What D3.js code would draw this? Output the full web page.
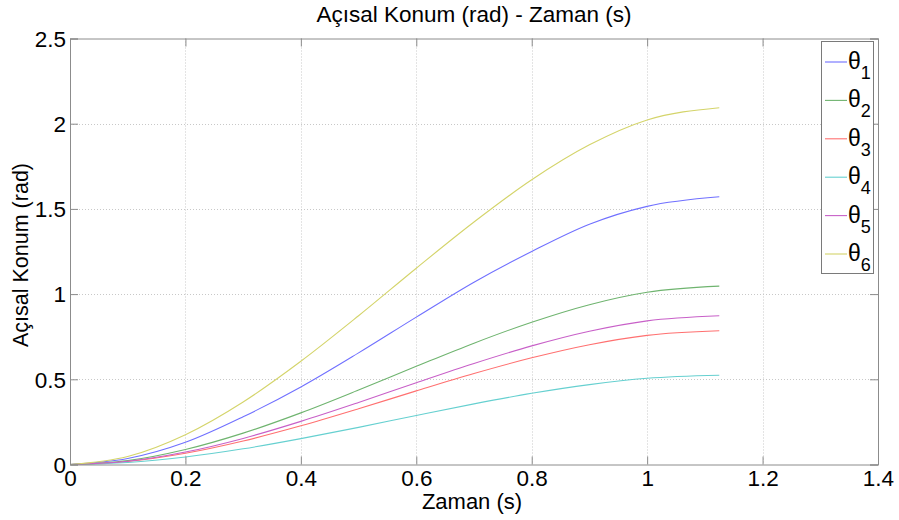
<!DOCTYPE html>
<html>
<head>
<meta charset="utf-8">
<script src="https://cdn.jsdelivr.net/npm/d3@7"></script>
<style>
  body { margin: 0; background: #fff; }
  svg { font-family: "Liberation Sans", Arial, Helvetica, sans-serif; }
</style>
</head>
<body>
<svg id="chart"></svg>
<script>
const W = 899, H = 520;
const margin = { top: 38.5, right: 21, bottom: 55.5, left: 70 };

// time samples (s)
const zaman = [0, 0.1, 0.2, 0.3, 0.4, 0.5, 0.6, 0.7, 0.8, 0.9, 1.0, 1.125];

// joint angles (rad)
const theta1 = [0, 0.035, 0.13, 0.28, 0.455, 0.655, 0.865, 1.07, 1.25, 1.41, 1.515, 1.571];
const theta2 = [0, 0.023, 0.088, 0.184, 0.303, 0.437, 0.576, 0.712, 0.835, 0.938, 1.011, 1.047];
const theta3 = [0, 0.018, 0.066, 0.138, 0.227, 0.327, 0.432, 0.534, 0.626, 0.703, 0.758, 0.785];
const theta4 = [0, 0.012, 0.044, 0.092, 0.152, 0.218, 0.288, 0.356, 0.418, 0.469, 0.506, 0.524];
const theta5 = [0, 0.019, 0.073, 0.153, 0.253, 0.364, 0.48, 0.593, 0.696, 0.782, 0.843, 0.873];
const theta6 = [0, 0.047, 0.175, 0.367, 0.606, 0.873, 1.152, 1.423, 1.671, 1.876, 2.022, 2.094];

const xTicks = [0, 0.2, 0.4, 0.6, 0.8, 1, 1.2, 1.4];
const yTicks = [0, 0.5, 1, 1.5, 2, 2.5];

const series = [
  { name: "1", values: theta1, color: "#7070ff" },
  { name: "2", values: theta2, color: "#6fb46f" },
  { name: "3", values: theta3, color: "#ff7070" },
  { name: "4", values: theta4, color: "#66d0d0" },
  { name: "5", values: theta5, color: "#c860c8" },
  { name: "6", values: theta6, color: "#d4d46a" }
];

const svg = d3.select("#chart").attr("width", W).attr("height", H);

const x = d3.scaleLinear().domain([0, 1.4]).range([margin.left, W - margin.right]);
const y = d3.scaleLinear().domain([0, 2.5]).range([H - margin.bottom, margin.top]);

const x0 = x.range()[0], x1 = x.range()[1];
const y0 = y.range()[0], y1 = y.range()[1];

// grid
const grid = svg.append("g").attr("stroke", "#c8c8c8").attr("stroke-width", 1)
  .attr("stroke-dasharray", "1,2");
xTicks.slice(1, -1).forEach((t) => {
  grid.append("line")
    .attr("x1", Math.round(x(t)) + 0.5).attr("x2", Math.round(x(t)) + 0.5)
    .attr("y1", y1).attr("y2", y0);
});
yTicks.slice(1, -1).forEach((t) => {
  grid.append("line")
    .attr("y1", Math.round(y(t)) + 0.5).attr("y2", Math.round(y(t)) + 0.5)
    .attr("x1", x0).attr("x2", x1);
});

// lines
const line = d3.line()
  .x((d, i) => x(zaman[i]))
  .y((d) => y(d))
  .curve(d3.curveMonotoneX);

series.forEach((s) => {
  svg.append("path")
    .attr("d", line(s.values))
    .attr("fill", "none")
    .attr("stroke", s.color)
    .attr("stroke-width", 1.1);
});

// axes (MATLAB style: inward ticks on all four sides)
const tickLen = 8;
const axisColor = "#8c8c8c";

const xAxis = svg.append("g")
  .attr("transform", `translate(0,${y0})`)
  .call(d3.axisBottom(x).tickValues(xTicks).tickSize(-tickLen).tickPadding(6)
    .tickFormat(d3.format("")));
const yAxis = svg.append("g")
  .attr("transform", `translate(${x0},0)`)
  .call(d3.axisLeft(y).tickValues(yTicks).tickSize(-tickLen).tickPadding(4)
    .tickFormat(d3.format("")));
const xTop = svg.append("g")
  .attr("transform", `translate(0,${y1})`)
  .call(d3.axisTop(x).tickValues(xTicks).tickSize(-tickLen).tickFormat(""));
const yRight = svg.append("g")
  .attr("transform", `translate(${x1},0)`)
  .call(d3.axisRight(y).tickValues(yTicks).tickSize(-tickLen).tickFormat(""));

[xAxis, yAxis, xTop, yRight].forEach((g) => {
  g.select(".domain").attr("stroke", axisColor);
  g.selectAll(".tick line").attr("stroke", axisColor);
  g.selectAll(".tick text")
    .attr("fill", "#000")
    .style("font-size", "22.5px")
    .style("font-family", "'Liberation Sans', Arial, sans-serif");
});
yAxis.selectAll(".tick text").attr("dy", "0.35em");

// title and labels
svg.append("text")
  .attr("x", (x0 + x1) / 2)
  .attr("y", 22)
  .attr("text-anchor", "middle")
  .style("font-size", "22.5px")
  .text("Açısal Konum (rad) - Zaman (s)");

svg.append("text")
  .attr("x", 472)
  .attr("y", 509)
  .attr("text-anchor", "middle")
  .style("font-size", "22px")
  .text("Zaman (s)");

svg.append("text")
  .attr("transform", `translate(28,255) rotate(-90)`)
  .attr("text-anchor", "middle")
  .style("font-size", "21.5px")
  .text("Açısal Konum (rad)");

// legend
const legend = svg.append("g");
legend.append("rect")
  .attr("x", 821.5).attr("y", 41.5)
  .attr("width", 52).attr("height", 232)
  .attr("fill", "#fff")
  .attr("stroke", "#7a7a7a")
  .attr("stroke-width", 1);

series.forEach((s, i) => {
  const ly = 62 + i * 38.4;
  legend.append("line")
    .attr("x1", 825).attr("x2", 847)
    .attr("y1", ly).attr("y2", ly)
    .attr("stroke", s.color)
    .attr("stroke-width", 1.1);
  const t = legend.append("text")
    .attr("x", 848)
    .attr("y", ly + 7)
    .style("font-size", "23px");
  t.append("tspan").text("θ");
  t.append("tspan")
    .attr("dy", 10)
    .style("font-size", "18px")
    .text(s.name);
});
</script>
</body>
</html>
